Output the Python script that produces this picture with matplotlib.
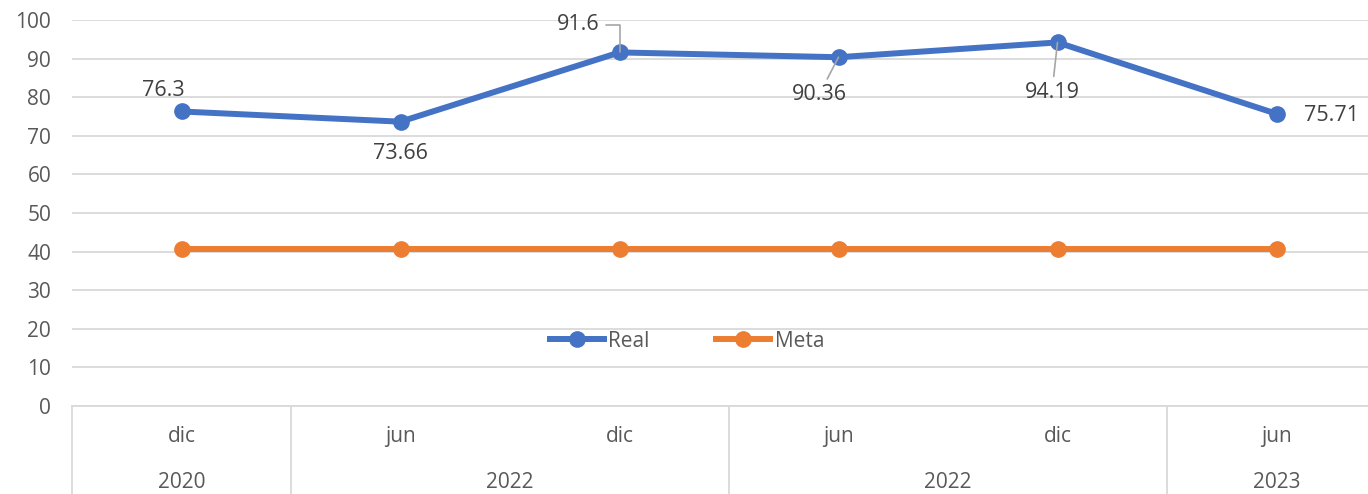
import matplotlib.pyplot as plt

# Data
months = ['dic', 'jun', 'dic', 'jun', 'dic', 'jun']
year_groups = [('2020', 0, 0), ('2022', 1, 2), ('2022', 3, 4), ('2023', 5, 5)]
real = [76.3, 73.66, 91.6, 90.36, 94.19, 75.71]
meta = [40.6, 40.6, 40.6, 40.6, 40.6, 40.6]
real_labels = ['76.3', '73.66', '91.6', '90.36', '94.19', '75.71']

BLUE = '#4472C4'
ORANGE = '#ED7D31'
GRID = '#D9D9D9'
TXT = '#595959'
FS = 15
FS_LAB = 15.5

plt.rcParams['font.family'] = ['Open Sans', 'DejaVu Sans']

fig = plt.figure(figsize=(13.68, 4.94), dpi=100)
W, H = 1368, 494
ax = fig.add_axes([72 / W, 88 / H, 1314 / W, 386 / H])

xs = list(range(len(months)))
ax.plot(xs, real, color=BLUE, lw=4.3, marker='o', ms=11, label='Real', zorder=3)
ax.plot(xs, meta, color=ORANGE, lw=4.3, marker='o', ms=11, label='Meta', zorder=3)

ax.set_xlim(-0.5, len(months) - 0.5)
ax.set_ylim(0, 100)
ax.set_yticks(range(0, 101, 10))
ax.yaxis.grid(True, color=GRID, lw=1.3)
ax.set_axisbelow(True)
ax.tick_params(axis='y', length=0, pad=15, labelsize=FS, labelcolor=TXT)
ax.set_xticks([])
for s in ['top', 'right', 'left']:
    ax.spines[s].set_visible(False)
ax.spines['bottom'].set_color(GRID)
ax.spines['bottom'].set_linewidth(1.3)

# data labels: (offset in points, ha, leader style)
offsets = [(-13, 15), (0, -23), (-30, 20), (-14, -27), (-4, -36), (20, -1)]
has = ['center', 'center', 'center', 'center', 'center', 'left']
leaders = [None, None, 'angle', 'line', 'line', None]
for i, (lab, off, ha, ld) in enumerate(zip(real_labels, offsets, has, leaders)):
    kw = {}
    if ld == 'angle':
        kw['arrowprops'] = dict(arrowstyle='-', color='#A6A6A6', lw=1.2,
                                connectionstyle='angle,angleA=0,angleB=90,rad=0',
                                shrinkA=3, shrinkB=0)
    elif ld == 'line':
        kw['arrowprops'] = dict(arrowstyle='-', color='#A6A6A6', lw=1.2,
                                shrinkA=2, shrinkB=0)
    ax.annotate(lab, (xs[i], real[i]), xytext=off, textcoords='offset points',
                ha=ha, va='center', fontsize=FS_LAB, color='#404040', zorder=4, **kw)

# multi-level category axis
tr = ax.get_xaxis_transform()
for i, m in enumerate(months):
    ax.text(xs[i], -0.080, m, transform=tr, ha='center', va='center',
            fontsize=FS, color=TXT)
bounds = [-0.5]
for name, a, b in year_groups:
    ax.text((a + b) / 2, -0.197, name, transform=tr, ha='center', va='center',
            fontsize=FS, color=TXT)
    bounds.append(b + 0.5)
for bx in bounds:
    ax.plot([bx, bx], [0, -0.25], transform=tr, color=GRID, lw=1.3, clip_on=False)

leg = ax.legend(loc='center', bbox_to_anchor=(0.468, 0.168), ncol=2, frameon=False,
                fontsize=FS, handlelength=2.6, handletextpad=0.2, columnspacing=3.2,
                labelcolor=TXT)

fig.savefig('out.png', dpi=100)
